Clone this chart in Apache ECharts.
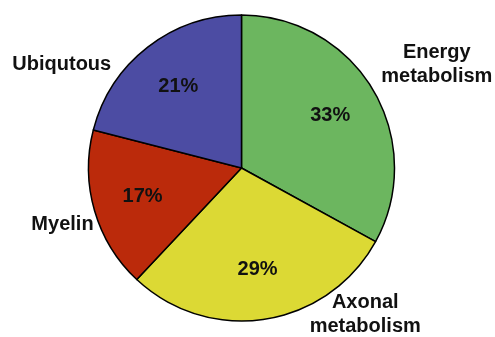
<!DOCTYPE html>
<html>
<head>
<meta charset="utf-8">
<script src="https://cdn.jsdelivr.net/npm/echarts@6/dist/echarts.min.js"></script>
<style>
  html, body { margin: 0; padding: 0; background: #ffffff; }
  #chart { width: 495px; height: 337px; }
</style>
</head>
<body>
<div id="chart"></div>
<script>
// Share of genes per functional group (percent), clockwise from 12 o'clock
const categories = ['Energy metabolism', 'Axonal metabolism', 'Myelin', 'Ubiqutous'];
const shares = [33, 29, 17, 21];
const sliceColors = ['#6cb65f', '#dcd934', '#bb2a0b', '#4c4ca3'];

// Where each group name sits relative to the rim (label-line lengths, line hidden)
const nameOffsets = [
  { length: 50, length2: -40 },
  { length: -5, length2: 40 },
  { length: 51, length2: -53 },
  { length: -22, length2: 45 }
];

const FONT = '"Liberation Sans", Arial, "DejaVu Sans", sans-serif';
const CENTER = [241.5, 168];
const RADIUS = 153;

const chart = echarts.init(document.getElementById('chart'), null, { renderer: 'canvas' });

const sliceData = categories.map((name, i) => ({
  name: name,
  value: shares[i],
  itemStyle: { color: sliceColors[i] },
  labelLine: { show: false, length: nameOffsets[i].length, length2: nameOffsets[i].length2 }
}));

const percentData = categories.map((name, i) => ({ name: name, value: shares[i] }));

chart.setOption({
  backgroundColor: '#ffffff',
  animation: false,
  series: [
    {
      // coloured slices with the group names outside
      type: 'pie',
      center: CENTER,
      radius: RADIUS,
      startAngle: 90,
      clockwise: true,
      avoidLabelOverlap: false,
      silent: true,
      itemStyle: { borderColor: '#000000', borderWidth: 1.5 },
      label: {
        show: true,
        position: 'outside',
        formatter: p => p.name.split(' ').map(w => '{n|' + w + '}').join('\n'),
        rich: {
          n: {
            fontFamily: FONT,
            fontWeight: 'bold',
            fontSize: 20,
            lineHeight: 24,
            color: '#111111',
            align: 'center'
          }
        }
      },
      labelLine: { show: false },
      data: sliceData
    },
    {
      // transparent overlay that carries the percentage inside each slice
      type: 'pie',
      center: CENTER,
      radius: [0, 200],
      startAngle: 90,
      clockwise: true,
      silent: true,
      itemStyle: { color: 'rgba(0,0,0,0)', borderWidth: 0 },
      label: {
        show: true,
        position: 'inside',
        formatter: p => p.value + '%',
        fontFamily: FONT,
        fontWeight: 'bold',
        fontSize: 20,
        color: '#111111'
      },
      labelLine: { show: false },
      data: percentData
    }
  ]
});
</script>
</body>
</html>
